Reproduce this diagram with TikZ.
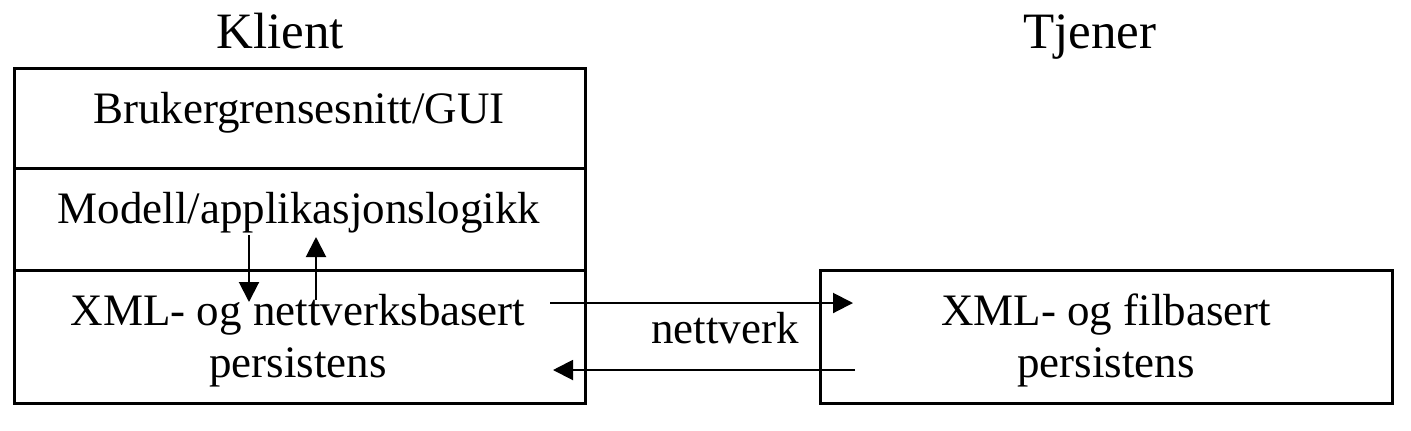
\documentclass[tikz,border=0pt]{standalone}
\usepackage{fontspec}
\setmainfont{Liberation Serif}
\usetikzlibrary{arrows.meta}
\begin{document}
\begin{tikzpicture}[x=0.5pt,y=-0.5pt,
  layer/.style={draw,line width=1.5pt,inner sep=0pt,outer sep=0pt},
  txt/.style={font=\fontsize{22.5}{26}\selectfont,anchor=base,inner sep=0pt},
  ttl/.style={font=\fontsize{25.5}{30}\selectfont,anchor=base,inner sep=0pt},
  conn/.style={line width=1pt,-{Triangle[length=10pt,width=10pt]}}]
\useasboundingbox (0,0) rectangle (1411,430);
% client layers
\node[layer,minimum width=285.5pt,minimum height=50pt] (gui) at (299.5,118) {};
\node[layer,minimum width=285.5pt,minimum height=51pt] (mod) at (299.5,219) {};
\node[layer,minimum width=285.5pt,minimum height=66.5pt] (xmlc) at (299.5,336.5) {};
% server
\node[layer,minimum width=286pt,minimum height=66.5pt] (xmls) at (1106,336.5) {};
% titles
\node[ttl] (klient) at (280,48) {Klient};
\node[ttl] (tjener) at (1090,48) {Tjener};
% texts
\node[txt] (tgui) at (299,123) {Brukergrensesnitt/GUI};
\node[txt] (tmod) at (299,223) {Modell/applikasjonslogikk};
\node[txt] (tc1) at (298,325) {XML- og nettverksbasert};
\node[txt] (tc2) at (298,377) {persistens};
\node[txt] (ts1) at (1106,325) {XML- og filbasert};
\node[txt] (ts2) at (1106,377) {persistens};
\node[txt] (net) at (725,343) {nettverk};
% connector ends
\coordinate (d1) at (249,235);
\coordinate (d2) at (249,302);
\coordinate (u1) at (316,300);
\coordinate (u2) at (316,237);
\coordinate (r1) at (550,303);
\coordinate (r2) at (853,303);
\coordinate (l1) at (855,370);
\coordinate (l2) at (553,370);
\draw[conn] (d1) -- (d2);
\draw[conn] (u1) -- (u2);
\draw[conn] (r1) -- (r2);
\draw[conn] (l1) -- (l2);
\end{tikzpicture}
\end{document}
